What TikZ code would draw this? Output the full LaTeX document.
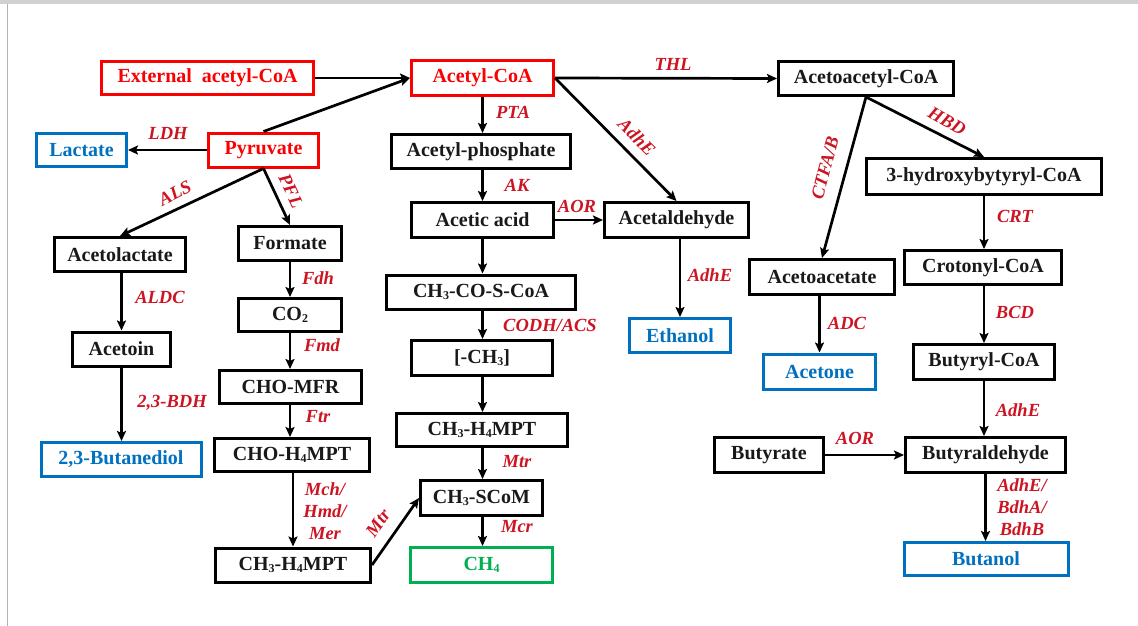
\documentclass[tikz,border=0pt]{standalone}
\usepackage{fontspec}
\setmainfont{Liberation Serif}
\usetikzlibrary{arrows.meta}
\definecolor{lblred}{RGB}{205,20,35}
\definecolor{boxred}{RGB}{250,0,0}
\definecolor{boxblue}{RGB}{0,112,192}
\definecolor{boxgreen}{RGB}{0,176,80}
\definecolor{txtblack}{RGB}{25,25,25}
\newcommand{\lsub}[1]{\raisebox{-1.5pt}{\fontsize{12}{12}\selectfont #1}}
\begin{document}
\begin{tikzpicture}[x=1pt,y=-1pt,
  wh/.style 2 args={minimum width=#1pt,minimum height=#2pt},
  box/.style={draw=black,line width=3pt,inner sep=0pt,font=\fontsize{20}{22}\selectfont\bfseries,text=txtblack},
  redbox/.style={box,draw=boxred,text=boxred},
  bluebox/.style={box,draw=boxblue,text=boxblue},
  greenbox/.style={box,draw=boxgreen,text=boxgreen},
  arr/.style={line width=2.7pt,-{Stealth[length=10pt,width=9pt,inset=2pt]}},
  lbl/.style={font=\fontsize{18.5}{22}\selectfont\bfseries\itshape,text=lblred,inner sep=0pt,align=center}]
\useasboundingbox (0,0) rectangle (1138,626);
\fill[black!18] (0,0) rectangle (1138,4);
\draw[black!30,line width=1pt] (7,4) -- (7,626);

% nodes
\node[redbox,wh={212}{33}] (ext) at (207.5,78) {External\ \ acetyl-CoA};
\node[redbox,wh={142}{35}] (acoa) at (482.5,78) {Acetyl-CoA};
\node[box,wh={175}{34}] (aacoa) at (866,78.5) {Acetoacetyl-CoA};
\node[bluebox,wh={90}{33}] (lact) at (81.5,150) {Lactate};
\node[redbox,wh={110}{34}] (pyr) at (263.5,150) {Pyruvate};
\node[box,wh={179}{34}] (aphos) at (481,151.5) {Acetyl-phosphate};
\node[box,wh={235}{36}] (hbcoa) at (984,176.5) {3-hydroxybytyryl-CoA};
\node[box,wh={131}{34}] (alact) at (120,254.5) {Acetolactate};
\node[box,wh={103}{34}] (form) at (290,243.5) {Formate};
\node[box,wh={142}{35}] (aacid) at (482.5,220) {Acetic acid};
\node[box,wh={144}{35}] (aald) at (676.5,220) {Acetaldehyde};
\node[box,wh={157}{34}] (crot) at (983,267.5) {Crotonyl-CoA};
\node[box,wh={145}{35}] (aacet) at (822,277) {Acetoacetate};
\node[box,wh={189}{34}] (ch3co) at (481,292) {CH\lsub{3}-CO-S-CoA};
\node[bluebox,wh={101}{34}] (etoh) at (680,335.5) {Ethanol};
\node[box,wh={103}{33}] (co2) at (290,315) {CO\lsub{2}};
\node[box,wh={98}{34}] (actn) at (121.5,349) {Acetoin};
\node[box,wh={141}{35}] (ch3b) at (482,358) {[-CH\lsub{3}]};
\node[bluebox,wh={112}{35}] (acetone) at (819.5,371.5) {Acetone};
\node[box,wh={141}{35}] (bucoa) at (984,362) {Butyryl-CoA};
\node[box,wh={142}{33}] (chomfr) at (290.5,387) {CHO-MFR};
\node[box,wh={171}{33}] (ch3h4m) at (482,430) {CH\lsub{3}-H\lsub{4}MPT};
\node[bluebox,wh={160}{34}] (btd) at (121,459.5) {2,3-Butanediol};
\node[box,wh={155}{33}] (choh4) at (292,455) {CHO-H\lsub{4}MPT};
\node[box,wh={109}{35}] (butyrate) at (769,455) {Butyrate};
\node[box,wh={160}{35}] (bald) at (985.5,455) {Butyraldehyde};
\node[box,wh={122}{35}] (scom) at (481.5,498) {CH\lsub{3}-SCoM};
\node[box,wh={155}{34}] (ch3h4l) at (293,565) {CH\lsub{3}-H\lsub{4}MPT};
\node[greenbox,wh={142}{35}] (ch4) at (481.5,565) {CH\lsub{4}};
\node[bluebox,wh={164}{33}] (butol) at (986,559) {Butanol};

% connectors
\draw[arr] (ext.east) -- (acoa.west);
\draw[arr] (pyr.north) -- (acoa.west);
\draw[arr] (pyr.west) -- (lact.east);
\draw[arr] (pyr.south) -- (alact.north);
\draw[arr] (pyr.south) -- (form.north);
\draw[arr] (acoa.south) -- (acoa.south |- aphos.north);
\draw[arr] (aphos.south -| acoa.south) -- (acoa.south |- aacid.north);
\draw[arr] (aacid.east) -- (aald.west);
\draw[arr] (acoa.east) -- (aald.north);
\draw[arr] (acoa.east) -- (aacoa.west);
\draw[arr] (aacoa.south) -- (hbcoa.north);
\draw[arr] (aacoa.south) -- (aacet.north);
\draw[arr] (hbcoa.south) -- (hbcoa.south |- crot.north);
\draw[arr] (hbcoa.south |- crot.south) -- (hbcoa.south |- bucoa.north);
\draw[arr] (hbcoa.south |- bucoa.south) -- (hbcoa.south |- bald.north);
\draw[arr] (butyrate.east) -- (bald.west);
\draw[arr] (bald.south) -- (bald.south |- butol.north);
\draw[arr] (aacet.south -| acetone.north) -- (acetone.north);
\draw[arr] (etoh.north |- aald.south) -- (etoh.north);
\draw[arr] (acoa.south |- aacid.south) -- (acoa.south |- ch3co.north);
\draw[arr] (acoa.south |- ch3co.south) -- (acoa.south |- ch3b.north);
\draw[arr] (acoa.south |- ch3b.south) -- (acoa.south |- ch3h4m.north);
\draw[arr] (acoa.south |- ch3h4m.south) -- (acoa.south |- scom.north);
\draw[arr] (acoa.south |- scom.south) -- (acoa.south |- ch4.north);
\draw[arr] (actn.north |- alact.south) -- (actn.north);
\draw[arr] (actn.south) -- (actn.south |- btd.north);
\draw[arr] (form.south) -- (form.south |- co2.north);
\draw[arr] (form.south |- co2.south) -- (form.south |- chomfr.north);
\draw[arr] (form.south |- chomfr.south) -- (form.south |- choh4.north);
\draw[arr] (ch3h4l.north |- choh4.south) -- (ch3h4l.north);
\draw[arr] (ch3h4l.east) -- (scom.west);

% labels
\node[lbl] at (168,133) {LDH};
\node[lbl,rotate=27] at (175,193) {ALS};
\node[lbl,rotate=-65] at (291,191) {PFL};
\node[lbl] at (513,112) {PTA};
\node[lbl] at (517,185) {AK};
\node[lbl] at (577,206) {AOR};
\node[lbl,rotate=-45] at (637,137) {AdhE};
\node[lbl] at (673,64) {THL};
\node[lbl,rotate=-30] at (947,121) {HBD};
\node[lbl,rotate=75] at (825,168) {CTFA/B};
\node[lbl] at (1015,216) {CRT};
\node[lbl] at (1015,312) {BCD};
\node[lbl] at (1018,410) {AdhE};
\node[lbl] at (855,438) {AOR};
\node[lbl] at (1022,507) {AdhE/\\BdhA/\\BdhB};
\node[lbl] at (847,323) {ADC};
\node[lbl] at (710,275) {AdhE};
\node[lbl] at (550,325) {CODH/ACS};
\node[lbl] at (517,462) {Mtr};
\node[lbl] at (517,527) {Mcr};
\node[lbl] at (160,297) {ALDC};
\node[lbl] at (172,403) {2,3-BDH};
\node[lbl] at (318,278) {Fdh};
\node[lbl] at (322,345) {Fmd};
\node[lbl] at (318,417) {Ftr};
\node[lbl] at (325,511) {Mch/\\Hmd/\\Mer};
\node[lbl,rotate=55] at (378,523) {Mtr};
\end{tikzpicture}
\end{document}
